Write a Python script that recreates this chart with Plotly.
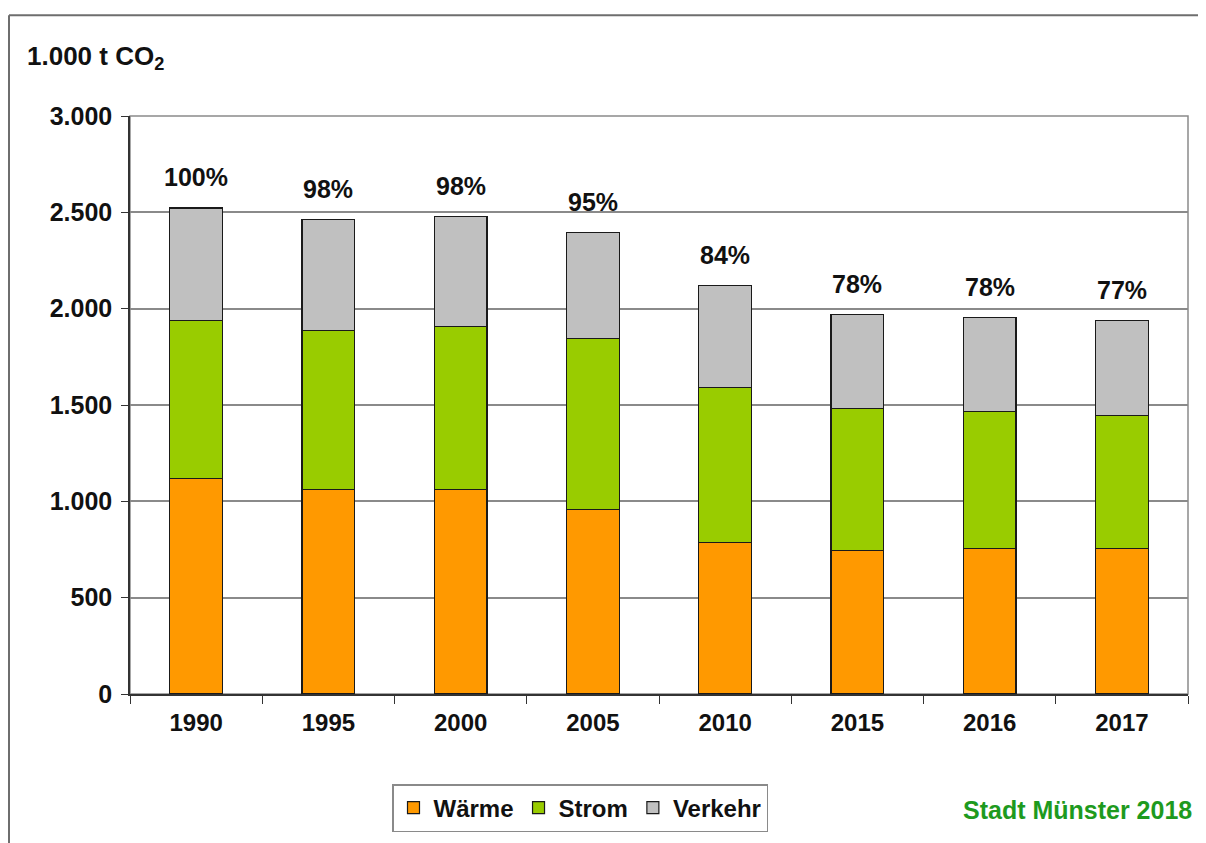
import plotly.graph_objects as go

years = ["1990", "1995", "2000", "2005", "2010", "2015", "2016", "2017"]
waerme = [1120, 1062, 1062, 959, 788, 746, 756, 756]
strom = [818, 824, 845, 886, 803, 736, 710, 690]
verkehr = [585, 575, 570, 549, 528, 487, 487, 492]
percent = ["100%", "98%", "98%", "95%", "84%", "78%", "78%", "77%"]
y_ticks = [0, 500, 1000, 1500, 2000, 2500, 3000]
y_ticktext = ["0", "500", "1.000", "1.500", "2.000", "2.500", "3.000"]

FONT = "Liberation Sans, Arial, sans-serif"

OFF = 8  # page body margin
W, H = 1206 - OFF, 843 - OFF
L, R, T, B = 130 - OFF, 1188 - OFF, 116 - OFF, 695 - OFF


def px_x(px):
    return (px - OFF - L) / (R - L)


def px_y(py):
    return (B - (py - OFF)) / (B - T)


fig = go.Figure()
for name, vals, col in [("Wärme", waerme, "#FF9900"),
                        ("Strom", strom, "#99CC00"),
                        ("Verkehr", verkehr, "#C0C0C0")]:
    fig.add_trace(go.Bar(x=years, y=vals, name=name,
                         marker=dict(color=col, line=dict(color="#1a1a1a", width=1.2))))

totals = [a + b + c for a, b, c in zip(waerme, strom, verkehr)]
for i, (tot, p) in enumerate(zip(totals, percent)):
    fig.add_annotation(x=i, y=tot, xref="x", yref="y", text=p, showarrow=False, yshift=31,
                       font=dict(family=FONT, size=25, color="#111", weight="bold"))

fig.add_annotation(xref="paper", yref="paper", x=px_x(25), y=px_y(57), xanchor="left",
                   yanchor="middle", showarrow=False, text="1.000 t CO<sub>2</sub>",
                   font=dict(family=FONT, size=26, color="#111", weight="bold"))
fig.add_annotation(xref="paper", yref="paper", x=px_x(1194), y=px_y(811), xanchor="right",
                   yanchor="middle", showarrow=False, text="Stadt Münster 2018",
                   font=dict(family=FONT, size=25, color="#1E9A1E", weight="bold"))

# outer frame
fig.add_shape(type="line", xref="paper", yref="paper", x0=px_x(9), x1=px_x(9),
              y0=px_y(850), y1=px_y(15), line=dict(color="#6e6e6e", width=2))
fig.add_shape(type="line", xref="paper", yref="paper", x0=px_x(9), x1=px_x(1215),
              y0=px_y(15), y1=px_y(15), line=dict(color="#6e6e6e", width=2))
# plot area border
fig.add_shape(type="rect", xref="paper", yref="paper", x0=0, y0=0, x1=1, y1=1,
              line=dict(color="#8a8a8a", width=1.5), layer="below")

fig.update_layout(
    width=W, height=H, barmode="stack", bargap=0.6,
    margin=dict(l=L, r=W - R, t=T, b=H - B),
    paper_bgcolor="white", plot_bgcolor="white",
    font=dict(family=FONT, color="#111"),
    showlegend=True,
    legend=dict(orientation="h", x=px_x(580), y=px_y(808), xanchor="center", yanchor="middle",
                bgcolor="white", bordercolor="#8a8a8a", borderwidth=1.5,
                font=dict(family=FONT, size=24, color="#111", weight="bold"),
                itemwidth=30, traceorder="normal"),
    xaxis=dict(type="category", range=[-0.5, len(years) - 0.5], showgrid=False, showline=True,
               linecolor="#333", linewidth=1.5,
               ticks="outside", tickson="boundaries", ticklen=8, tickcolor="#333",
               ticklabelstandoff=6,
               tickfont=dict(family=FONT, size=24, color="#111", weight="bold")),
    yaxis=dict(range=[0, 3000], tickvals=y_ticks, ticktext=y_ticktext, showgrid=True,
               gridcolor="#8a8a8a", gridwidth=1.5, showline=True, linecolor="#333", linewidth=1.5,
               ticks="outside", ticklen=7, tickcolor="#333", zeroline=False,
               ticklabelstandoff=4,
               tickfont=dict(family=FONT, size=25, color="#111", weight="bold")),
)

fig.write_html("out.html")
